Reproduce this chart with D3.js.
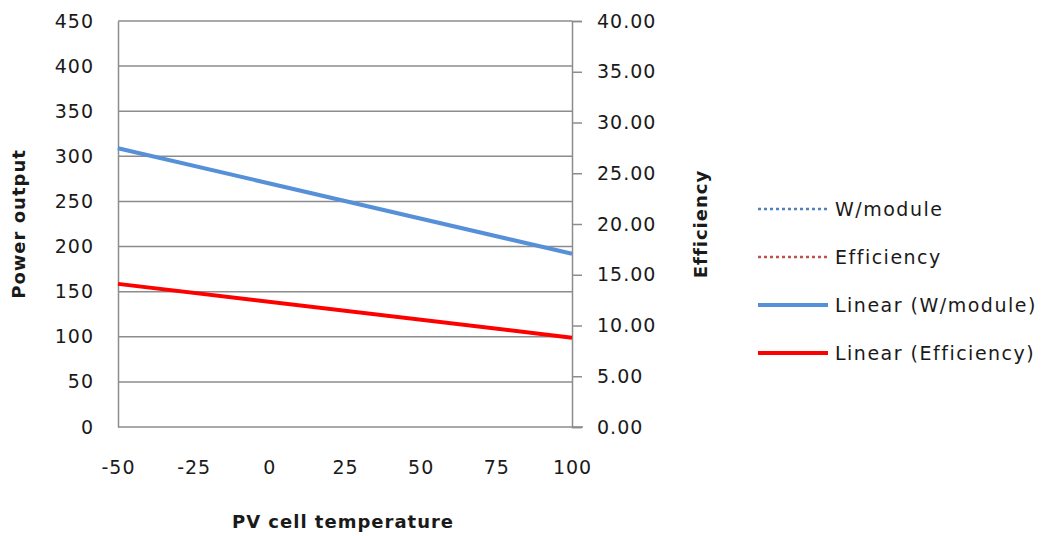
<!DOCTYPE html>
<html>
<head>
<meta charset="utf-8">
<script src="https://cdn.jsdelivr.net/npm/d3@7"></script>
<style>
  html, body { margin: 0; padding: 0; background: #fff; }
  svg { display: block; font-family: "DejaVu Sans", Verdana, sans-serif; }
</style>
</head>
<body>
<svg id="chart" width="1041" height="536"></svg>
<script>
// PV cell temperature (°C)
const temperature = [-50, -25, 0, 25, 50, 75, 100];
// Power output per module (W)
const wattsPerModule = [309, 289.5, 270, 250.5, 231, 211.5, 192];
// Module efficiency (%)
const efficiency = [14.1, 13.22, 12.33, 11.45, 10.57, 9.68, 8.8];

const xTicks = [-50, -25, 0, 25, 50, 75, 100];
const leftTicks = [0, 50, 100, 150, 200, 250, 300, 350, 400, 450];
const rightTicks = [0, 5, 10, 15, 20, 25, 30, 35, 40];

const legendItems = [
  { label: "W/module", color: "#4f81bd", dash: "3,3", width: 2.5 },
  { label: "Efficiency", color: "#c0504d", dash: "3,3", width: 2.5 },
  { label: "Linear (W/module)", color: "#5590d8", dash: null, width: 4 },
  { label: "Linear (Efficiency)", color: "#ff0000", dash: null, width: 4 }
];

const svg = d3.select("#chart");
const plot = { left: 118, right: 572, top: 21, bottom: 427 };
const gridColor = "#8c8c8c";
const textColor = "#1a1a1a";
const tickFont = 19;

const x = d3.scaleLinear().domain([-50, 100]).range([plot.left, plot.right]);
const yL = d3.scaleLinear().domain([0, 450]).range([plot.bottom, plot.top]);
const yR = d3.scaleLinear().domain([0, 40]).range([plot.bottom, plot.top]);

function styleTicks(g) {
  g.selectAll("text").attr("font-size", tickFont).attr("fill", textColor)
    .attr("letter-spacing", 1)
    .attr("font-family", "DejaVu Sans, Verdana, sans-serif");
}

// horizontal gridlines
svg.append("g").selectAll("line").data(leftTicks.filter(d => d > 0)).join("line")
  .attr("x1", plot.left).attr("x2", plot.right)
  .attr("y1", d => yL(d)).attr("y2", d => yL(d))
  .attr("stroke", gridColor).attr("stroke-width", 1.5);

// left axis
const gl = svg.append("g").attr("transform", `translate(${plot.left},0)`)
  .call(d3.axisLeft(yL).tickValues(leftTicks).tickSize(0).tickPadding(24));
gl.select(".domain").attr("stroke", gridColor).attr("stroke-width", 1.5);
styleTicks(gl);

// right axis
const gr = svg.append("g").attr("transform", `translate(${plot.right},0)`)
  .call(d3.axisRight(yR).tickValues(rightTicks).tickSize(10).tickPadding(15)
    .tickFormat(d3.format(".2f")));
gr.select(".domain").attr("stroke", gridColor).attr("stroke-width", 1.5);
gr.selectAll(".tick line").attr("stroke", gridColor).attr("stroke-width", 1.5);
styleTicks(gr);

// bottom axis
const gb = svg.append("g").attr("transform", `translate(0,${plot.bottom})`)
  .call(d3.axisBottom(x).tickValues(xTicks).tickSize(0).tickPadding(34)
    .tickFormat(d => String(d)));
gb.select(".domain").attr("stroke", gridColor).attr("stroke-width", 1.5)
  .attr("d", `M${plot.left},0H${plot.right + 11}`);
styleTicks(gb);

// data series (dotted)
const lineL = d3.line().x((d, i) => x(temperature[i])).y(d => yL(d));
const lineR = d3.line().x((d, i) => x(temperature[i])).y(d => yR(d));
svg.append("path").datum(wattsPerModule).attr("d", lineL)
  .attr("fill", "none").attr("stroke", legendItems[0].color)
  .attr("stroke-width", 2.5).attr("stroke-dasharray", "3,3");
svg.append("path").datum(efficiency).attr("d", lineR)
  .attr("fill", "none").attr("stroke", legendItems[1].color)
  .attr("stroke-width", 2.5).attr("stroke-dasharray", "3,3");

// least-squares trendlines
function fit(xs, ys) {
  const mx = d3.mean(xs), my = d3.mean(ys);
  const sxy = d3.sum(xs, (v, i) => (v - mx) * (ys[i] - my));
  const sxx = d3.sum(xs, v => (v - mx) * (v - mx));
  const b = sxy / sxx;
  return t => my + b * (t - mx);
}
const dom = x.domain();
const fW = fit(temperature, wattsPerModule);
const fE = fit(temperature, efficiency);
svg.append("line")
  .attr("x1", x(dom[0])).attr("y1", yL(fW(dom[0])))
  .attr("x2", x(dom[1])).attr("y2", yL(fW(dom[1])))
  .attr("stroke", legendItems[2].color).attr("stroke-width", 4);
svg.append("line")
  .attr("x1", x(dom[0])).attr("y1", yR(fE(dom[0])))
  .attr("x2", x(dom[1])).attr("y2", yR(fE(dom[1])))
  .attr("stroke", legendItems[3].color).attr("stroke-width", 4);

// axis titles
function title(t) {
  return t.attr("text-anchor", "middle").attr("font-size", 18).attr("font-weight", "bold")
    .attr("letter-spacing", 1).attr("fill", textColor);
}
title(svg.append("text")
  .attr("transform", `translate(25,${(plot.top + plot.bottom) / 2}) rotate(-90)`))
  .text("Power output");
title(svg.append("text")
  .attr("transform", `translate(707,${(plot.top + plot.bottom) / 2}) rotate(-90)`))
  .text("Efficiency");
title(svg.append("text").attr("x", (plot.left + plot.right) / 2 - 2).attr("y", 528))
  .text("PV cell temperature");

// legend
const lg = svg.append("g").selectAll("g").data(legendItems).join("g")
  .attr("transform", (d, i) => `translate(758,${209 + i * 48})`);
lg.append("line").attr("x1", 0).attr("x2", 70).attr("y1", 0).attr("y2", 0)
  .attr("stroke", d => d.color).attr("stroke-width", d => d.width)
  .attr("stroke-dasharray", d => d.dash);
lg.append("text").attr("x", 77).attr("y", 0).attr("dy", "0.35em")
  .attr("font-size", tickFont).attr("letter-spacing", 1.5)
  .attr("fill", textColor).text(d => d.label);
</script>
</body>
</html>
